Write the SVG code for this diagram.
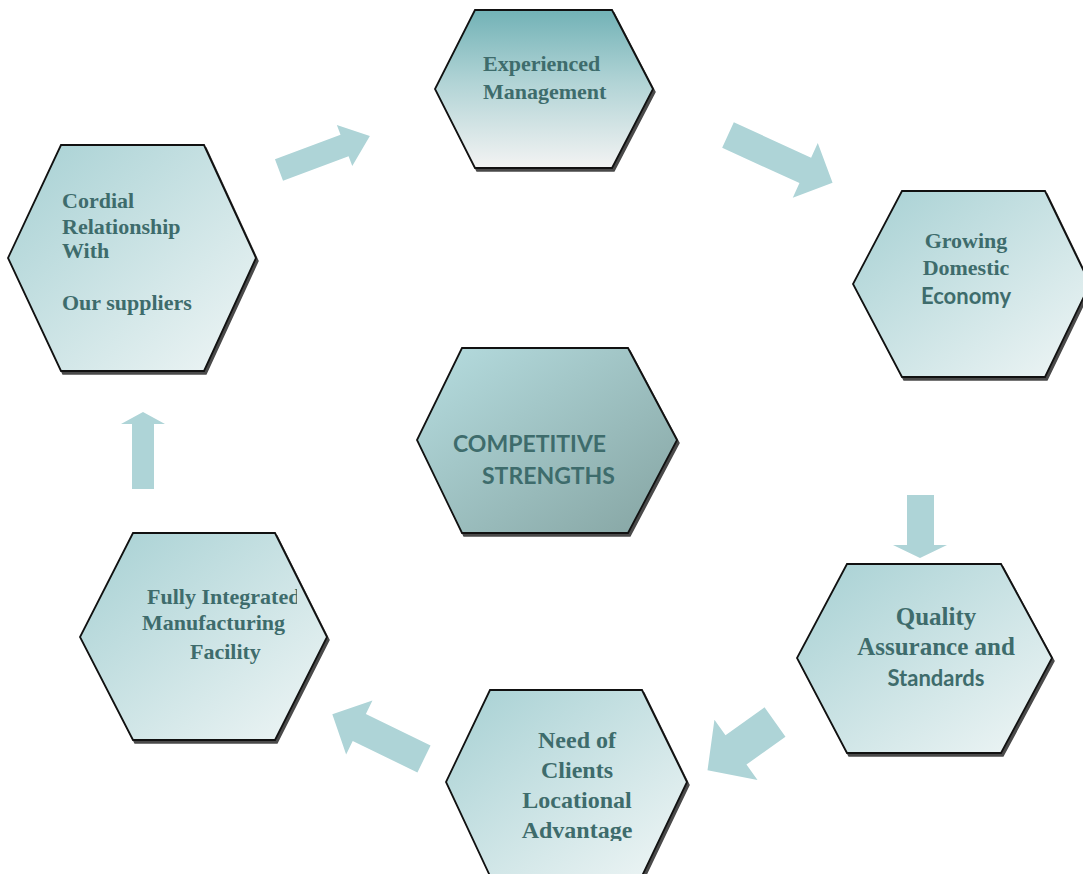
<svg xmlns="http://www.w3.org/2000/svg" width="1083" height="874" viewBox="0 0 1083 874">
<defs>
<linearGradient id="gTop" x1="0" y1="0" x2="0" y2="1">
<stop offset="0" stop-color="#72b2b6"/>
<stop offset="0.45" stop-color="#b0d3d5"/>
<stop offset="1" stop-color="#f3f3f3"/>
</linearGradient>
<linearGradient id="gHex" x1="0" y1="0" x2="1" y2="1">
<stop offset="0" stop-color="#a6d0d3"/>
<stop offset="1" stop-color="#f0f6f6"/>
</linearGradient>
<linearGradient id="gCenter" x1="0" y1="0" x2="1" y2="1">
<stop offset="0" stop-color="#b6dde0"/>
<stop offset="1" stop-color="#85a4a2"/>
</linearGradient>
<clipPath id="clipFully"><rect x="80" y="520" width="217" height="230"/></clipPath>
<clipPath id="clipNeed"><rect x="440" y="680" width="250" height="161"/></clipPath>
</defs>
<style>
.shadow{fill:#4a4a4a;stroke:#4a4a4a;stroke-width:1.5}
.hex{stroke:#111;stroke-width:1.8}
.serif{font-family:"Liberation Serif","DejaVu Serif",serif;font-weight:bold;fill:#3e6c6c}
.sans{font-family:Lato,"Liberation Sans",sans-serif;font-weight:bold;fill:#3e6c6c}
.arrow{fill:#aed4d7}
</style>
<rect width="1083" height="874" fill="#ffffff"/>

<g id="connectors">
<path class="arrow" transform="translate(279,170) rotate(-20.5)" d="M0,-11.5 L70,-11.5 L70,-22 L97,0 L70,22 L70,11.5 L0,11.5 Z"/>
<path class="arrow" transform="translate(728,135) rotate(24.6)" d="M0,-14 L85,-14 L85,-30 L115,0 L85,30 L85,14 L0,14 Z"/>
<path class="arrow" d="M907,495 L934,495 L934,545 L947,545 L920,558 L893,545 L907,545 Z"/>
<path class="arrow" transform="translate(775,722) rotate(144.4)" d="M0,-18 L48,-18 L48,-37 L83,0 L48,37 L48,18 L0,18 Z"/>
<path class="arrow" transform="translate(424,759) rotate(206)" d="M0,-15 L72,-15 L72,-30 L102,0 L72,30 L72,15 L0,15 Z"/>
<path class="arrow" d="M132,489 L132,424 L121,424 L143,412 L165,424 L154,424 L154,489 Z"/>
</g>

<g id="node-experienced">
<polygon class="shadow" transform="translate(2,3)" points="475,10 612,10 653,89 612,168 475,168 435,89"/>
<polygon class="hex" fill="url(#gTop)" points="475,10 612,10 653,89 612,168 475,168 435,89"/>
<text class="serif" font-size="22"><tspan x="483" y="71">Experienced</tspan><tspan x="483" y="99">Management</tspan></text>
</g>

<g id="node-cordial">
<polygon class="shadow" transform="translate(2,3)" points="61,145 204,145 256,258 204,371 61,371 8,258"/>
<polygon class="hex" fill="url(#gHex)" points="61,145 204,145 256,258 204,371 61,371 8,258"/>
<text class="serif" font-size="22"><tspan x="62" y="208">Cordial</tspan><tspan x="62" y="234">Relationship</tspan><tspan x="62" y="258">With</tspan><tspan x="62" y="310">Our suppliers</tspan></text>
</g>

<g id="node-growing">
<polygon class="shadow" transform="translate(2,3)" points="902,191 1045,191 1090,284 1045,377 902,377 853,284"/>
<polygon class="hex" fill="url(#gHex)" points="902,191 1045,191 1090,284 1045,377 902,377 853,284"/>
<text class="serif" font-size="22" text-anchor="middle"><tspan x="966" y="248">Growing</tspan><tspan x="966" y="275">Domestic</tspan></text>
<text class="sans" font-size="22" x="966" y="304" text-anchor="middle">Economy</text>
</g>

<g id="node-center">
<polygon class="shadow" transform="translate(2,3)" points="462,348 628,348 677,440 628,533 462,533 417,440"/>
<polygon class="hex" fill="url(#gCenter)" points="462,348 628,348 677,440 628,533 462,533 417,440"/>
<text class="sans" font-size="23"><tspan x="453" y="452">COMPETITIVE</tspan><tspan x="482" y="484">STRENGTHS</tspan></text>
</g>

<g id="node-quality">
<polygon class="shadow" transform="translate(2,3)" points="847,564 1001,564 1052,658 1001,753 847,753 797,658"/>
<polygon class="hex" fill="url(#gHex)" points="847,564 1001,564 1052,658 1001,753 847,753 797,658"/>
<text class="serif" font-size="25" text-anchor="middle"><tspan x="936" y="625">Quality</tspan><tspan x="936" y="655">Assurance and</tspan></text>
<text class="sans" font-size="22" x="936" y="686" text-anchor="middle">Standards</text>
</g>

<g id="node-need">
<polygon class="shadow" transform="translate(2,3)" points="490,690 642,690 687,782 642,876 490,876 446,782"/>
<polygon class="hex" fill="url(#gHex)" points="490,690 642,690 687,782 642,876 490,876 446,782"/>
<text class="serif" font-size="24" text-anchor="middle" clip-path="url(#clipNeed)"><tspan x="577" y="748">Need of</tspan><tspan x="577" y="778">Clients</tspan><tspan x="577" y="808">Locational</tspan><tspan x="577" y="838">Advantage</tspan></text>
</g>

<g id="node-fully">
<polygon class="shadow" transform="translate(2,3)" points="133,533 275,533 327,637 275,740 133,740 80,637"/>
<polygon class="hex" fill="url(#gHex)" points="133,533 275,533 327,637 275,740 133,740 80,637"/>
<text class="serif" font-size="22" clip-path="url(#clipFully)"><tspan x="147" y="604">Fully Integrated</tspan><tspan x="142" y="630">Manufacturing</tspan><tspan x="190" y="659">Facility</tspan></text>
</g>
</svg>
